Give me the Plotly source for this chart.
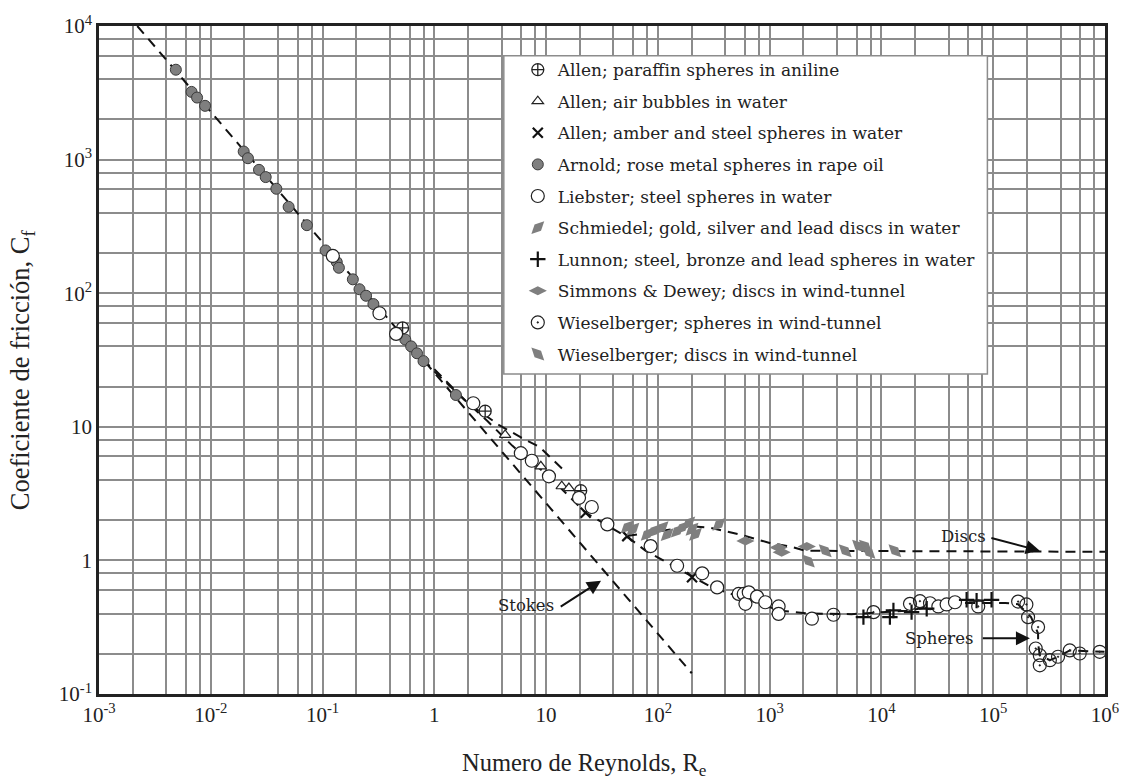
import math
import plotly.graph_objects as go

# ---------------- data (Re, Cf) ----------------
allen_paraffin_re = [0.52, 2.85, 20.4]
allen_paraffin_cf = [55.0, 13.1, 3.33]

allen_bubbles_re = [4.3, 8.97, 13.8, 16.0]
allen_bubbles_cf = [8.7, 5.06, 3.59, 3.48]

allen_amber_re = [22.6, 53.2, 202]
allen_amber_cf = [2.27, 1.52, 0.747]

arnold_re = [0.00487, 0.00673, 0.00754, 0.00889, 0.0197, 0.0215, 0.0270, 0.0310,
             0.0386, 0.0497, 0.0724, 0.1064, 0.134, 0.140, 0.1866, 0.214, 0.245,
             0.285, 0.55, 0.62, 0.70, 0.80, 1.56]
arnold_cf = [4707, 3212, 2913, 2526, 1149, 1024, 838, 740,
             605, 443, 323, 209, 171, 155, 127, 107, 95.7,
             82.9, 45.0, 40.0, 35.5, 31.0, 17.3]

liebster_re = [0.1236, 0.323, 0.455, 2.23, 5.94, 7.45, 10.6, 19.7, 25.6, 35.3, 86.1,
               148.6, 249, 339, 528, 586, 607, 650, 771, 915, 1202, 1202, 2387,
               27200, 32300, 38300, 45500]
liebster_cf = [190, 70.8, 49.6, 15.0, 6.35, 5.57, 4.26, 2.94, 2.51, 1.86, 1.28,
               0.912, 0.80, 0.628, 0.561, 0.561, 0.473, 0.577, 0.536, 0.486, 0.452, 0.398, 0.366,
               0.478, 0.452, 0.468, 0.486]

schmiedel_re = [53.2, 59.8, 80.2, 92, 109, 121, 149, 165, 189, 202, 217, 351]
schmiedel_cf = [1.78, 1.71, 1.57, 1.66, 1.76, 1.56, 1.66, 1.76, 1.91, 1.71, 1.57, 1.86]

lunnon_re = [6900, 11900, 12800, 18600, 25400, 57800, 71000, 96600]
lunnon_cf = [0.376, 0.376, 0.422, 0.41, 0.435, 0.507, 0.500, 0.507]

simmons_re = [607, 1200, 1280, 2150]
simmons_cf = [1.40, 1.25, 1.15, 1.27]

wiesel_sph_re = [3725, 8490, 18000, 22100, 73400, 167000, 198000, 205000, 252000,
                 240000, 261000, 261000, 321000, 380000, 484000, 594000, 897000]
wiesel_sph_cf = [0.392, 0.41, 0.473, 0.495, 0.452, 0.492, 0.468, 0.376, 0.317,
                 0.219, 0.195, 0.164, 0.179, 0.190, 0.212, 0.201, 0.207]

wiesel_disc_re = [2220, 3140, 4740, 6240, 7180, 7730, 13200]
wiesel_disc_cf = [0.99, 1.18, 1.18, 1.28, 1.28, 1.15, 1.18]

# reference curves
stokes_re = [0.0022, 201]
stokes_cf = [10000, 0.143]

oseen_re = [1.0, 2.0, 3.8, 6.15, 8.67, 13.9]
oseen_cf = [27.0, 15.0, 10.3, 8.2, 7.1, 4.86]

spheres_re = [0.5, 1.0, 2.0, 3.0, 5.0, 10.6, 22.6, 55, 78, 164, 302, 457, 1250, 2220,
              5390, 16600, 46000, 128000, 167000, 218000, 252000, 252000, 261000,
              321000, 380000, 484000, 990000]
spheres_cf = [50.4, 26.0, 15.0, 11.0, 7.2, 4.26, 2.27, 1.47, 1.18, 0.84, 0.63, 0.56, 0.42, 0.40,
              0.396, 0.42, 0.48, 0.48, 0.47, 0.376, 0.284, 0.239, 0.195,
              0.179, 0.19, 0.212, 0.207]

discs_re = [53, 100, 200, 300, 528, 1000, 1530, 2090, 1000000]
discs_cf = [1.52, 1.65, 1.8, 1.75, 1.57, 1.35, 1.27, 1.18, 1.16]

# curve labels: (text, label Re, label Cf, arrow tail Re, tail Cf, head Re, head Cf)
curve_labels = [
    ("Stokes", 6.6, 0.46, 13.1, 0.444, 31.0, 0.705),
    ("Discs", 54000, 1.50, 93300, 1.48, 261000, 1.18),
    ("Spheres", 33000, 0.261, 78200, 0.261, 213000, 0.261),
]

x_decades = [-3, -2, -1, 0, 1, 2, 3, 4, 5, 6]
y_decades = [-1, 0, 1, 2, 3, 4]
SERIF = "Liberation Serif"
LEGEND_FONT = "DejaVu Serif"


def decade_label(k):
    if k == 0:
        return "1"
    if k == 1:
        return "10"
    return "10<sup>%d</sup>" % k


def grid_ticks(decades):
    vals, text = [], []
    for k in decades:
        vals.append(10.0 ** k)
        text.append(decade_label(k))
        if k != decades[-1]:
            for m in (2, 4, 6, 8):
                vals.append(m * 10.0 ** k)
                text.append("")
    return vals, text


xtv, xtt = grid_ticks(x_decades)
ytv, ytt = grid_ticks(y_decades)

fig = go.Figure()

DASH = "10px,7px"
for rx, cy in [(stokes_re, stokes_cf), (oseen_re, oseen_cf),
               (spheres_re, spheres_cf), (discs_re, discs_cf)]:
    fig.add_trace(go.Scatter(x=rx, y=cy, mode="lines", showlegend=False, hoverinfo="skip",
                             line=dict(color="#111111", width=2, dash=DASH)))

GRAY = "#7f7f7f"
series = [
    ("Allen; paraffin spheres in aniline", allen_paraffin_re, allen_paraffin_cf,
     dict(symbol="circle-cross", size=12, color="white", line=dict(color="#222", width=1.3))),
    ("Allen; air bubbles in water", allen_bubbles_re, allen_bubbles_cf,
     dict(symbol="triangle-up", size=10, color="white", line=dict(color="#222", width=1.2))),
    ("Allen; amber and steel spheres in water", allen_amber_re, allen_amber_cf,
     dict(symbol="x-thin-open", size=10, color="#111", line=dict(color="#111", width=2.2))),
    ("Arnold; rose metal spheres in rape oil", arnold_re, arnold_cf,
     dict(symbol="circle", size=11, color=GRAY, line=dict(color="#3a3a3a", width=1))),
    ("Liebster; steel spheres in water", liebster_re, liebster_cf,
     dict(symbol="circle", size=13, color="white", line=dict(color="#222", width=1.2))),
    ("Schmiedel; gold, silver and lead discs in water", schmiedel_re, schmiedel_cf,
     dict(symbol="diamond-tall", size=13, angle=45, color=GRAY, line=dict(color=GRAY, width=0))),
    ("Lunnon; steel, bronze and lead spheres in water", lunnon_re, lunnon_cf,
     dict(symbol="cross-thin-open", size=11, color="#111", line=dict(color="#111", width=2.2))),
    ("Simmons & Dewey; discs in wind-tunnel", simmons_re, simmons_cf,
     dict(symbol="diamond-wide", size=13, color=GRAY, line=dict(color=GRAY, width=0))),
    ("Wieselberger; spheres in wind-tunnel", wiesel_sph_re, wiesel_sph_cf,
     dict(symbol="circle-open-dot", size=13, color="#222", line=dict(color="#222", width=1.2))),
    ("Wieselberger; discs in wind-tunnel", wiesel_disc_re, wiesel_disc_cf,
     dict(symbol="diamond-tall", size=13, angle=-45, color=GRAY, line=dict(color=GRAY, width=0))),
]
for i, (name, rx, cy, mk) in enumerate(series):
    fig.add_trace(go.Scatter(x=rx, y=cy, mode="markers", name=name, marker=mk,
                             legendgroup="g%d" % i))

# curve labels and their arrows (log axes take log10 positions)
for text, lx, ly, tx, ty, hx, hy in curve_labels:
    fig.add_annotation(x=math.log10(lx), y=math.log10(ly), xref="x", yref="y", text=text,
                       showarrow=False, font=dict(family=LEGEND_FONT, size=16.5, color="#222"))
    fig.add_annotation(x=math.log10(hx), y=math.log10(hy), ax=math.log10(tx), ay=math.log10(ty),
                       xref="x", yref="y", axref="x", ayref="y", text="",
                       showarrow=True, arrowhead=2, arrowsize=1.4, arrowwidth=2,
                       arrowcolor="#111")

# axis titles
fig.add_annotation(x=0.4827, y=-0.1057, xref="paper", yref="paper", showarrow=False,
                   text="Numero de Reynolds, R<sub>e</sub>", xanchor="center", yanchor="middle",
                   font=dict(family=SERIF, size=24.5, color="#222"))
fig.add_annotation(x=-0.0763, y=0.485, xref="paper", yref="paper", showarrow=False,
                   text="Coeficiente de fricción, C<sub>f</sub>", textangle=-90,
                   xanchor="center", yanchor="middle",
                   font=dict(family=SERIF, size=26.5, color="#222"))

# legend frame (white box over the grid; the legend itself sits on top)
fig.add_shape(type="rect", xref="paper", yref="paper", x0=0.4024, x1=0.8831, y0=0.4792, y1=0.9554,
              fillcolor="white", line=dict(color="#8c8c8c", width=1.5), layer="above")

axis_common = dict(type="log", showgrid=True, gridcolor="#8c8c8c", gridwidth=2,
                   showline=True, linecolor="#222", linewidth=2.5, mirror=True,
                   ticks="", zeroline=False,
                   tickfont=dict(family=SERIF, size=21, color="#222"))

fig.update_layout(
    width=1131, height=781,
    margin=dict(l=99, r=23, t=22, b=87),
    paper_bgcolor="white", plot_bgcolor="white",
    xaxis=dict(range=[-3, 6], tickvals=xtv, ticktext=xtt, **axis_common),
    yaxis=dict(range=[-1, 4], tickvals=ytv, ticktext=ytt, **axis_common),
    legend=dict(x=0.4163, y=0.961, xanchor="left", yanchor="top",
                bgcolor="rgba(0,0,0,0)", borderwidth=0,
                font=dict(family=LEGEND_FONT, size=17, color="#222"),
                tracegroupgap=6.5, itemsizing="trace"),
    showlegend=True,
)

fig.write_html("out.html")
